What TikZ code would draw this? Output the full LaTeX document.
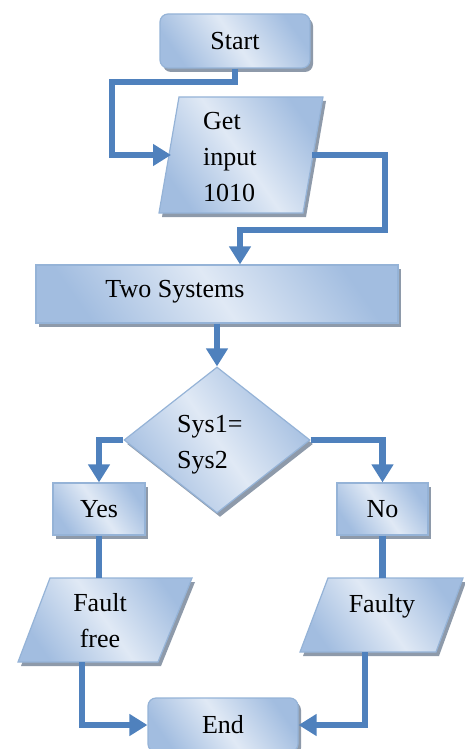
\documentclass[tikz,border=0pt]{standalone}
\usepackage{fontspec}
\setmainfont{Liberation Serif}
\usetikzlibrary{arrows.meta,shapes.geometric,shadows}

\definecolor{flowline}{HTML}{4F81BD}
\definecolor{boxedge}{HTML}{95B3D7}
\definecolor{boxdark}{HTML}{A2BDE0}
\definecolor{boxlight}{HTML}{E0E9F5}
\definecolor{boxshadow}{HTML}{8E9AAA}

\tikzset{
  box/.style={draw=boxedge, line width=1.2pt,
    left color=boxdark, right color=boxdark, middle color=boxlight,
    shading angle=125,
    drop shadow={shadow xshift=3pt, shadow yshift=-4pt, fill=boxshadow, opacity=1},
    font=\fontsize{26}{36}\selectfont, inner sep=0pt},
  txt/.style={font=\fontsize{26}{36}\selectfont, inner sep=0pt},
  flow/.style={draw=flowline, line width=6.5pt},
  flowarrow/.style={flow, -{Triangle[length=18pt,width=21pt]}},
}

\begin{document}
\begin{tikzpicture}[x=1pt, y=-1pt]
  \useasboundingbox (0,0) rectangle (465,749);

  % start terminal
  \node[box, rounded corners=8pt, minimum width=150pt, minimum height=54pt] (start) at (235,41) {Start};

  % input parallelogram
  \path[box] (179,97) -- (323,97) -- (303,213) -- (159,213) -- cycle;
  \coordinate (getW) at (171,155);
  \coordinate (getE) at (312,155);
  \node[txt, anchor=west, align=left] (gettext) at (203,157.5) {Get\\input\\1010};

  % process box
  \node[box, minimum width=362pt, minimum height=58pt] (sys) at (217,294) {};
  \node[txt] (systext) at (175,292) {Two Systems};

  % decision
  \node[box, diamond, minimum width=186pt, minimum height=146pt] (cmp) at (217,440) {};
  \node[txt, anchor=west, align=left] (cmptext) at (177,445) {Sys1=\\Sys2};

  % branches
  \node[box, minimum width=92pt, minimum height=52pt] (yes) at (99,509) {Yes};
  \node[box, minimum width=91pt, minimum height=52pt] (no) at (382.5,509) {No};

  % output parallelograms
  \path[box] (50,578) -- (192,578) -- (158,662) -- (18,662) -- cycle;
  \coordinate (ffN) at (99,578);
  \coordinate (ffS) at (82,662);
  \node[txt, align=center] (fftext) at (100,621) {Fault\\free};

  \path[box] (328,578) -- (463,578) -- (436,652) -- (300,652) -- cycle;
  \coordinate (fyN) at (382.5,578);
  \coordinate (fyS) at (365,652);
  \node[txt] (fytext) at (382,606) {Faulty};

  % end terminal
  \node[box, rounded corners=8pt, minimum width=150pt, minimum height=54pt] (end) at (223,725) {End};

  % connectors
  \draw[flowarrow] (start.south) |- (112,82) |- (getW);
  \draw[flowarrow] (getE) -| (385,230) -| (sys.north -| 240,0);
  \draw[flowarrow] (sys.south) -- (cmp.north);
  \draw[flowarrow] (cmp.west) -| (yes.north);
  \draw[flowarrow] (cmp.east) -| (no.north);
  \draw[flow] (yes.south) -- (ffN);
  \draw[flow] (no.south) -- (fyN);
  \draw[flowarrow] (ffS) |- (end.west);
  \draw[flowarrow] (fyS) |- (end.east);
\end{tikzpicture}
\end{document}
